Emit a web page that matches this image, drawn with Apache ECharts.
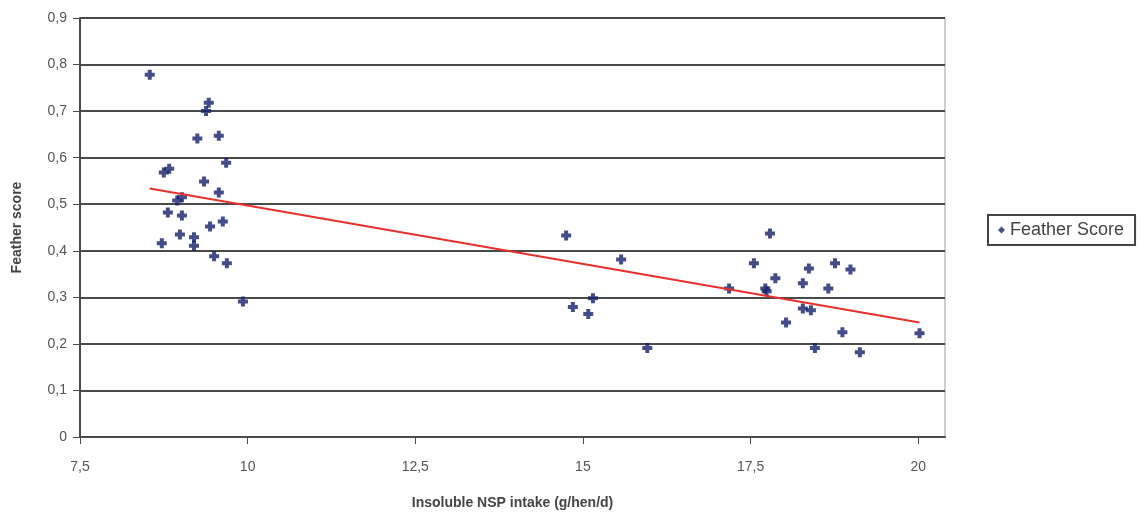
<!DOCTYPE html>
<html>
<head>
<meta charset="utf-8">
<script src="https://cdn.jsdelivr.net/npm/echarts@6/dist/echarts.min.js"></script>
<style>
  html, body { margin: 0; padding: 0; background: #fff; }
  #chart { width: 1142px; height: 515px; }
</style>
</head>
<body>
<div id="chart"></div>
<script>
// ── data ──────────────────────────────────────────────────
const intakeX = [
  8.54, 9.42, 9.38, 9.25, 9.57, 9.68, 8.75, 8.83, 9.35, 9.57,
  8.95, 9.02, 8.81, 9.02, 9.44, 9.63, 8.99, 9.2, 9.2, 8.72,
  9.5, 9.69, 9.93,
  14.75, 15.57, 15.15, 14.85, 15.08, 15.96,
  17.79, 17.55, 18.76, 18.37, 18.99, 17.87, 18.28, 18.66, 17.18, 17.72,
  17.74, 18.28, 18.4, 18.03, 18.87, 20.02, 18.46, 19.13
]
const featherScore = [
  0.778, 0.718, 0.70, 0.641, 0.647, 0.589, 0.568, 0.576, 0.549, 0.525,
  0.508, 0.515, 0.482, 0.476, 0.452, 0.463, 0.435, 0.429, 0.411, 0.416,
  0.388, 0.373, 0.291,
  0.433, 0.381, 0.298, 0.279, 0.264, 0.191,
  0.437, 0.373, 0.373, 0.362, 0.36, 0.341, 0.33, 0.319, 0.319, 0.319,
  0.313, 0.276, 0.272, 0.246, 0.225, 0.223, 0.191, 0.182
]
const trendX = [8.54, 20.02]
const trendY = [0.534, 0.246]
const xTicks = [7.5, 10, 12.5, 15, 17.5, 20]

const NAVY = '#15206a'
const TREND = '#e8302c'
const GRID_LINE = '#4a4a4a'
const LABEL = '#555'
// chunky cross, looks like the blurred excel marker
const MARKER = 'path://M3,0 L7,0 L7,3 L10,3 L10,7 L7,7 L7,10 L3,10 L3,7 L0,7 L0,3 L3,3 Z'

const fmtComma = v => String(+v.toFixed(2)).replace('.', ',')

const chart = echarts.init(document.getElementById('chart'))

chart.setOption({
  animation: false,
  textStyle: { fontFamily: 'Liberation Sans, Arial, sans-serif' },
  grid: { left: 80, top: 18, right: 197, bottom: 74, show: true, borderColor: '#9a9a9a', borderWidth: 1 },
  legend: {
    left: 988, top: 215,
    orient: 'vertical',
    data: [{ name: 'Feather Score', icon: 'diamond' }],
    itemWidth: 7, itemHeight: 7, itemGap: 4,
    padding: [6, 11, 6, 10],
    borderColor: '#444', borderWidth: 2,
    textStyle: { color: '#444', fontSize: 18 },
  },
  xAxis: {
    type: 'value', min: 7.5, max: 20.4,
    name: 'Insoluble NSP intake (g/hen/d)',
    nameLocation: 'middle', nameGap: 59,
    nameTextStyle: { color: '#444', fontSize: 14, fontWeight: 'bold' },
    axisLine: { onZero: false, lineStyle: { color: GRID_LINE, width: 2 } },
    axisTick: { show: true, length: 7, customValues: xTicks, lineStyle: { color: GRID_LINE } },
    axisLabel: { customValues: xTicks, color: LABEL, fontSize: 14, margin: 23, formatter: fmtComma },
    splitLine: { show: false },
  },
  yAxis: {
    type: 'value', min: 0, max: 0.9, interval: 0.1,
    name: 'Feather score',
    nameLocation: 'middle', nameGap: 56, nameRotate: 90,
    nameTextStyle: { color: '#444', fontSize: 14, fontWeight: 'bold' },
    axisLine: { show: true, lineStyle: { color: GRID_LINE, width: 2 } },
    axisTick: { show: true, length: 7, lineStyle: { color: GRID_LINE } },
    axisLabel: { color: LABEL, fontSize: 14, margin: 13, formatter: fmtComma },
    splitLine: { lineStyle: { color: GRID_LINE, width: 2 } },
  },
  series: [
    {
      name: 'Feather Score', type: 'scatter',
      data: intakeX.map((x, i) => [x, featherScore[i]]),
      symbol: MARKER, symbolSize: 10,
      itemStyle: { color: NAVY },
      z: 3,
    },
    {
      name: 'trend', type: 'line',
      data: trendX.map((x, i) => [x, trendY[i]]),
      symbol: 'none',
      lineStyle: { color: TREND, width: 2 },
      z: 4,
    },
  ],
})
</script>
</body>
</html>
